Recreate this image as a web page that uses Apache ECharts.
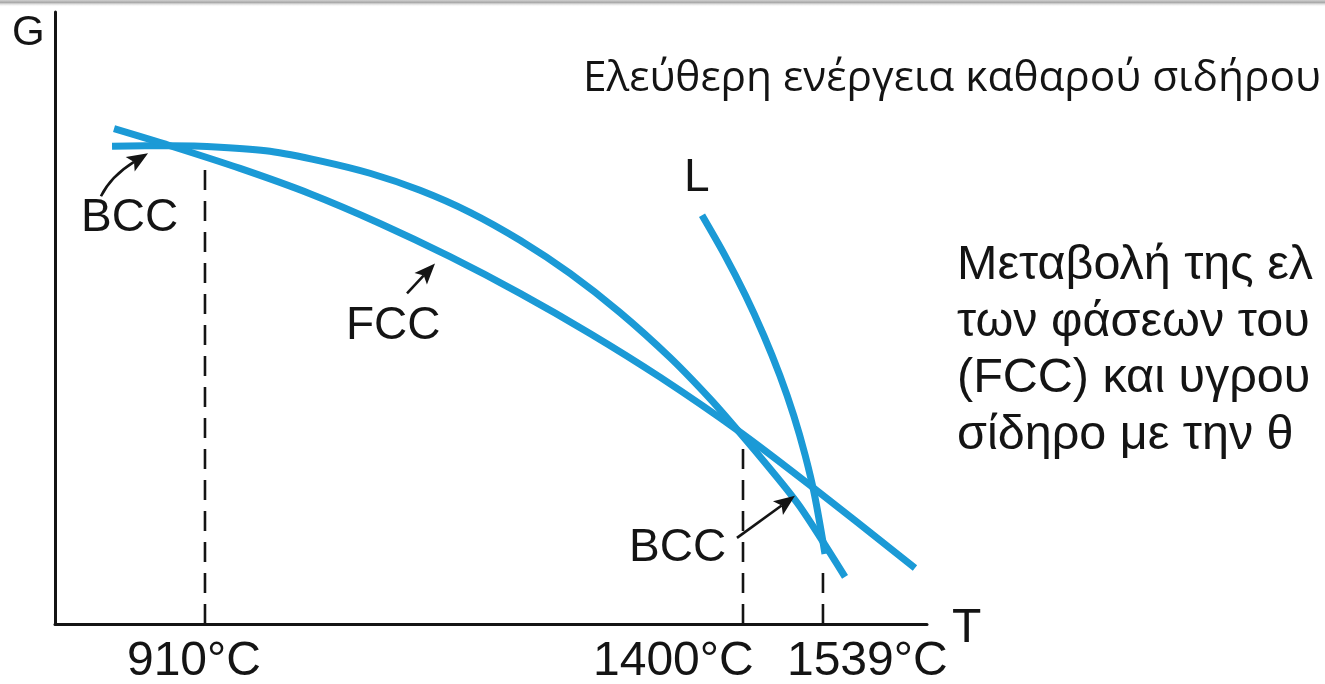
<!DOCTYPE html>
<html>
<head>
<meta charset="utf-8">
<script src="https://cdn.jsdelivr.net/npm/echarts@6/dist/echarts.min.js"></script>
<style>
  html, body { margin: 0; padding: 0; background: #ffffff; }
  #chart { width: 1325px; height: 684px; }
</style>
</head>
<body>
<div id="chart"></div>
<script>
// Schematic free-energy diagram of pure iron.
// Both axes are qualitative: T position and G run from 0 to 100.
const bccCurve = [
  [6.54, 78.07], [13.19, 78.15], [18.92, 77.91], [24.66, 77.25], [30.39, 75.68],
  [36.12, 73.65], [41.86, 70.87], [47.59, 67.27], [53.33, 62.70], [59.06, 57.28],
  [64.79, 50.90], [70.53, 43.54], [75.11, 36.82], [78.33, 31.59], [82.00, 25.37],
  [85.44, 19.15], [90.60, 7.69]
];
const fccCurve = [
  [6.77, 80.93], [13.19, 78.15], [21.22, 74.44], [29.24, 70.31], [37.27, 65.45],
  [45.30, 60.02], [53.33, 54.03], [61.35, 47.48], [69.38, 40.34], [78.33, 31.59],
  [86.81, 22.42], [98.62, 9.17]
];
const liquidCurve = [
  [74.20, 66.78], [76.82, 60.23], [79.19, 53.68], [81.28, 47.14], [83.13, 40.59],
  [84.72, 34.04], [86.04, 27.50], [87.12, 20.95], [88.30, 11.46]
];
// Transition temperatures: position on T axis and G where the guide line stops
const transitionT = [17.20, 78.90, 88.07];
const transitionG = [76.5, 29.13, 9.98];
const tickLabels = ['910°C', '1400°C', '1539°C'];
// Horizontal shift of each tick label (px) relative to its guide line
const tickLabelShift = [-78, -150, -36];

// Label pointers: tail, optional bend point, tip (chart coordinates)
const pointerTail = [[5.27, 69.89], [40.37, 54.01], [78.21, 14.08]];
const pointerBend = [[6.42, 73.16], null, null];
const pointerTip = [[10.67, 76.92], [43.58, 58.92], [84.86, 20.95]];

const BLUE = '#1b9ad6';
const INK = '#141414';
const SANS = '"Liberation Sans", Arial, sans-serif';

const chart = echarts.init(document.getElementById('chart'), null, { renderer: 'canvas' });

const guideSeries = transitionT.map((t, i) => ({
  type: 'line',
  data: [[t, 0], [t, transitionG[i]]],
  symbol: 'none',
  silent: true,
  z: 1,
  lineStyle: { color: INK, width: 2.6, type: [20, 11] }
}));

const curveStyle = { color: BLUE, width: 7, cap: 'butt' };
const curveSeries = [
  { name: 'BCC', data: bccCurve },
  { name: 'FCC', data: fccCurve },
  { name: 'L', data: liquidCurve }
].map(s => ({
  type: 'line',
  name: s.name,
  data: s.data,
  smooth: 0.3,
  symbol: 'none',
  silent: true,
  z: 3,
  lineStyle: curveStyle
}));

chart.setOption({
  backgroundColor: '#ffffff',
  animation: false,
  grid: { left: 55, right: 398, top: 12, bottom: 60 },
  xAxis: {
    type: 'value', min: 0, max: 100,
    axisLine: { show: true, lineStyle: { color: INK, width: 3 } },
    axisTick: { show: false }, axisLabel: { show: false }, splitLine: { show: false }
  },
  yAxis: {
    type: 'value', min: 0, max: 100,
    axisLine: { show: true, lineStyle: { color: INK, width: 3 } },
    axisTick: { show: false }, axisLabel: { show: false }, splitLine: { show: false }
  },
  series: [...guideSeries, ...curveSeries]
});

const toPx = v => chart.convertToPixel({ gridIndex: 0 }, v);

function txt(text, x, y, size, family) {
  return {
    type: 'text', x: x, y: y, silent: true, z: 10,
    style: {
      text: text, fill: INK, font: size + 'px ' + (family || SANS),
      textAlign: 'left', textVerticalAlign: 'middle'
    }
  };
}

// Arrow: stroked shaft (straight or quadratic) plus a filled notched head
function pointer(i) {
  const s = toPx(pointerTail[i]);
  const e = toPx(pointerTip[i]);
  const c = pointerBend[i] ? toPx(pointerBend[i]) : null;
  const from = c || s;
  let dx = e[0] - from[0], dy = e[1] - from[1];
  const len = Math.hypot(dx, dy);
  dx /= len; dy /= len;
  const headLen = 21, headHalf = 8.5, notch = 4.5;
  const bx = e[0] - dx * headLen, by = e[1] - dy * headLen;
  const nx = -dy, ny = dx;
  const shaftEnd = [e[0] - dx * (headLen - notch), e[1] - dy * (headLen - notch)];
  const shaft = c
    ? { type: 'bezierCurve', shape: { x1: s[0], y1: s[1], cpx1: c[0], cpy1: c[1], x2: shaftEnd[0], y2: shaftEnd[1] } }
    : { type: 'line', shape: { x1: s[0], y1: s[1], x2: shaftEnd[0], y2: shaftEnd[1] } };
  shaft.silent = true;
  shaft.z = 9;
  shaft.style = { stroke: INK, lineWidth: 2.6, fill: null };
  const head = {
    type: 'polygon', silent: true, z: 9,
    shape: { points: [
      e,
      [bx + nx * headHalf, by + ny * headHalf],
      [e[0] - dx * (headLen - notch), e[1] - dy * (headLen - notch)],
      [bx - nx * headHalf, by - ny * headHalf]
    ] },
    style: { fill: INK }
  };
  return [shaft, head];
}

const tickTexts = tickLabels.map((label, i) => {
  const p = toPx([transitionT[i], 0]);
  return txt(label, p[0] + tickLabelShift[i], 662, 48);
});

const paragraph = ['Μεταβολή της ελ', 'των φάσεων του', '(FCC) και υγρου', 'σίδηρο με την θ'];

chart.setOption({
  graphic: [
    {
      type: 'rect', left: 0, top: 0, silent: true, z: 20,
      shape: { width: 1325, height: 7 },
      style: {
        fill: new echarts.graphic.LinearGradient(0, 0, 0, 1, [
          { offset: 0, color: '#cfcfcf' },
          { offset: 0.35, color: '#a9a9a9' },
          { offset: 1, color: 'rgba(255,255,255,0)' }
        ])
      }
    },
    ...pointer(0), ...pointer(1), ...pointer(2),
    txt('G', 12, 33, 42),
    txt('T', 952, 629, 48),
    txt('BCC', 81, 218, 46),
    txt('FCC', 346, 326, 46),
    txt('L', 684, 178, 46),
    txt('BCC', 629, 548, 46),
    ...tickTexts,
    txt('Ελεύθερη ενέργεια καθαρού σιδήρου', 583, 79, 42.4, '"Open Sans", sans-serif'),
    ...paragraph.map((line, i) => txt(line, 957, 266 + i * 56.5, 48.5))
  ]
});
</script>
</body>
</html>
